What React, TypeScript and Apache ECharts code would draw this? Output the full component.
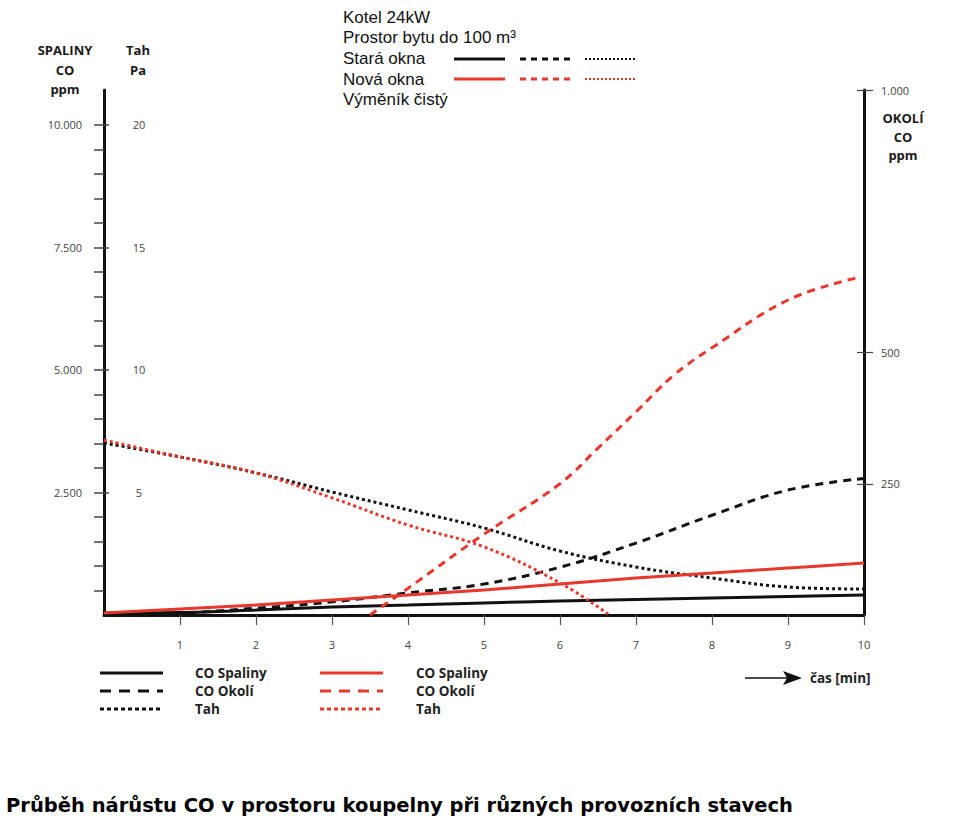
import React, { useEffect, useRef } from "react";
import * as echarts from "echarts";

// ---- data ----
const minutes = [0, 1, 2, 3, 4, 5, 6, 7, 8, 9, 10];
const staraSpaliny = [40, 50, 100, 163, 204, 245, 285, 316, 347, 378, 408];
const staraOkoli = [2, 4, 13, 25, 42, 59, 91, 137, 190, 238, 260];
const staraTah = [7.02, 6.45, 5.8, 5.02, 4.29, 3.55, 2.61, 1.96, 1.51, 1.14, 1.06];
const novaSpaliny = [41, 122, 204, 306, 408, 510, 633, 755, 857, 959, 1061];
const novaOkoliMinutes = [3.5, 4, 5, 6, 6.5, 7, 7.5, 8, 9, 9.9];
const novaOkoli = [0, 51, 154, 250, 318, 387, 457, 509, 600, 642];
const novaTahMinutes = [0, 1, 2, 3, 4, 5, 6, 6.65];
const novaTah = [7.14, 6.45, 5.8, 4.78, 3.67, 2.78, 1.31, 0];

const xTicks = [1, 2, 3, 4, 5, 6, 7, 8, 9, 10];
const spalinyMinorTicks = [500, 1000, 1500, 2000, 2500, 3000, 3500, 4000, 4500, 5000, 5500, 6000, 6500, 7000, 7500, 8000, 8500, 9000, 9500, 10000];
const spalinyLabels = [2500, 5000, 7500, 10000];
const tahLabels = [5, 10, 15, 20];
const okoliLabels = [250, 500, 1000];

const topLegendLines = ["Kotel 24kW", "Prostor bytu do 100 m³", "Stará okna", "Nová okna", "Výměník čistý"];
const bottomLegendNames = ["CO Spaliny", "CO Okolí", "Tah"];
const caption = "Průběh nárůstu CO v prostoru koupelny při různých provozních stavech";

const BLACK = "#111111";
const RED = "#e8372c";
const DASH = [8, 6];
const DOT = [3, 3];

const fmt = (v: number) => {
  const s = String(Math.round(v));
  return s.replace(/\B(?=(\d{3})+(?!\d))/g, ".");
};

const pairs = (xs: number[], ys: number[]) => xs.map((x, i) => [x, ys[i]]);

const SP_MAX = 10714;

export default function App() {
  const ref = useRef<HTMLDivElement>(null);
  useEffect(() => {
    if (!ref.current) return;
    const chart = echarts.init(ref.current, null, { renderer: "svg" });
    const labelFont = { fontFamily: "Open Sans", fontSize: 11, color: "#444" };
    const titleFont = { fontFamily: "Open Sans", fontSize: 13, fontWeight: "bold" as const, fill: "#1a1a1a" };

    const graphics: any[] = [];
    // axis titles
    ["SPALINY", "CO", "ppm"].forEach((t, i) =>
      graphics.push({ type: "text", x: 65, y: 50 + i * 19.5, style: { text: t, ...titleFont, align: "center", verticalAlign: "middle" } })
    );
    ["Tah", "Pa"].forEach((t, i) =>
      graphics.push({ type: "text", x: 138, y: 50 + i * 19.5, style: { text: t, ...titleFont, align: "center", verticalAlign: "middle" } })
    );
    ["OKOLÍ", "CO", "ppm"].forEach((t, i) =>
      graphics.push({ type: "text", x: 903, y: 118 + i * 18.5, style: { text: t, ...titleFont, align: "center", verticalAlign: "middle" } })
    );
    // top legend
    topLegendLines.forEach((t, i) =>
      graphics.push({
        type: "text", x: 343, y: 17 + i * 20.7,
        style: { text: t, fontFamily: "Liberation Sans", fontSize: 17, fill: "#111", verticalAlign: "middle" },
      })
    );
    [[BLACK, 59], [RED, 79]].forEach(([c, y]) => {
      const yy = y as number;
      const col = c as string;
      graphics.push({ type: "line", shape: { x1: 454, y1: yy, x2: 505, y2: yy }, style: { stroke: col, lineWidth: 3 } });
      graphics.push({ type: "line", shape: { x1: 520, y1: yy, x2: 572, y2: yy }, style: { stroke: col, lineWidth: 3, lineDash: [6, 5] } });
      graphics.push({ type: "line", shape: { x1: 585, y1: yy, x2: 637, y2: yy }, style: { stroke: col, lineWidth: 2, lineDash: [2, 2] } });
    });
    // bottom legend
    const styles = [null, [11, 8], [4, 3]];
    [[BLACK, 100, 195], [RED, 320, 416]].forEach(([c, x0, tx]) => {
      bottomLegendNames.forEach((n, i) => {
        const y = 673 + i * 18;
        const st: any = { stroke: c, lineWidth: 3 };
        if (styles[i]) st.lineDash = styles[i];
        graphics.push({ type: "line", shape: { x1: x0, y1: y, x2: (x0 as number) + 63, y2: y }, style: st });
        graphics.push({
          type: "text", x: tx, y,
          style: { text: n, fontFamily: "Open Sans", fontSize: 13.5, fontWeight: "bold", fill: "#222", verticalAlign: "middle" },
        });
      });
    });
    // time arrow
    graphics.push({ type: "line", shape: { x1: 745, y1: 678, x2: 790, y2: 678 }, style: { stroke: "#111", lineWidth: 1.5 } });
    graphics.push({ type: "polygon", shape: { points: [[783, 671], [802, 678], [783, 685], [787, 678]] }, style: { fill: "#111" } });
    graphics.push({
      type: "text", x: 810, y: 678,
      style: { text: "čas [min]", fontFamily: "Open Sans", fontSize: 13.5, fontWeight: "bold", fill: "#222", verticalAlign: "middle" },
    });

    const lineSeries = (name: string, data: number[][], yIdx: number, color: string, type: any) => ({
      name, type: "line", data, yAxisIndex: yIdx, smooth: 0.4, symbol: "none",
      lineStyle: { color, width: 3, type, cap: "butt" }, z: 3,
    });

    chart.setOption({
      animation: false,
      backgroundColor: "#ffffff",
      title: {
        text: caption, left: 1, top: 790,
        textStyle: { fontFamily: "DejaVu Sans", fontSize: 19.5, fontWeight: "bold", color: "#000" },
      },
      grid: { left: 104, right: 96, top: 90, bottom: 203, containLabel: false },
      xAxis: {
        type: "value", min: 0, max: 10, interval: 1,
        axisLine: { show: true, lineStyle: { color: BLACK, width: 3 } },
        axisTick: { show: true, length: 10, customValues: xTicks, lineStyle: { color: "#555", width: 1.2 } },
        axisLabel: { customValues: xTicks, margin: 24, ...labelFont },
        splitLine: { show: false },
      },
      yAxis: [
        {
          type: "value", position: "left", min: 0, max: SP_MAX, interval: 500,
          axisLine: { show: true, lineStyle: { color: BLACK, width: 3 } },
          axisTick: { show: true, length: 10, customValues: spalinyMinorTicks, lineStyle: { color: "#444", width: 1.5 } },
          axisLabel: { customValues: spalinyLabels, margin: 22, formatter: (v: number) => fmt(v), ...labelFont },
          splitLine: { show: false },
        },
        {
          type: "value", position: "left", min: 0, max: SP_MAX / 500, interval: 5,
          axisLine: { show: false },
          axisTick: { show: true, inside: true, length: 5, customValues: tahLabels, lineStyle: { color: "#444", width: 1.5 } },
          axisLabel: { inside: true, customValues: tahLabels, margin: 35, align: "center", ...labelFont },
          splitLine: { show: false },
        },
        {
          type: "value", position: "right", min: 0, max: 1000, interval: 250,
          axisLine: { show: true, lineStyle: { color: BLACK, width: 3 } },
          axisTick: { show: true, length: 9, customValues: okoliLabels, lineStyle: { color: "#444", width: 1.2 } },
          axisLabel: { customValues: okoliLabels, margin: 17, formatter: (v: number) => fmt(v), ...labelFont },
          splitLine: { show: false },
        },
        {
          type: "value", position: "right", min: 0, max: 1000, interval: 250,
          axisLine: { show: false },
          axisTick: { show: true, inside: true, length: 7, customValues: okoliLabels, lineStyle: { color: "#444", width: 1.2 } },
          axisLabel: { show: false },
          splitLine: { show: false },
        },
      ],
      series: [
        lineSeries("Stará okna – CO Spaliny", pairs(minutes, staraSpaliny), 0, BLACK, "solid"),
        lineSeries("Stará okna – CO Okolí", pairs(minutes, staraOkoli), 2, BLACK, DASH),
        lineSeries("Stará okna – Tah", pairs(minutes, staraTah), 1, BLACK, DOT),
        lineSeries("Nová okna – CO Spaliny", pairs(minutes, novaSpaliny), 0, RED, "solid"),
        lineSeries("Nová okna – CO Okolí", pairs(novaOkoliMinutes, novaOkoli), 2, RED, DASH),
        lineSeries("Nová okna – Tah", pairs(novaTahMinutes, novaTah), 1, RED, DOT),
      ],
      graphic: graphics,
    });
    return () => chart.dispose();
  }, []);
  return <div ref={ref} style={{ position: "absolute", left: 0, top: 0, width: 960, height: 818 }} />;
}
